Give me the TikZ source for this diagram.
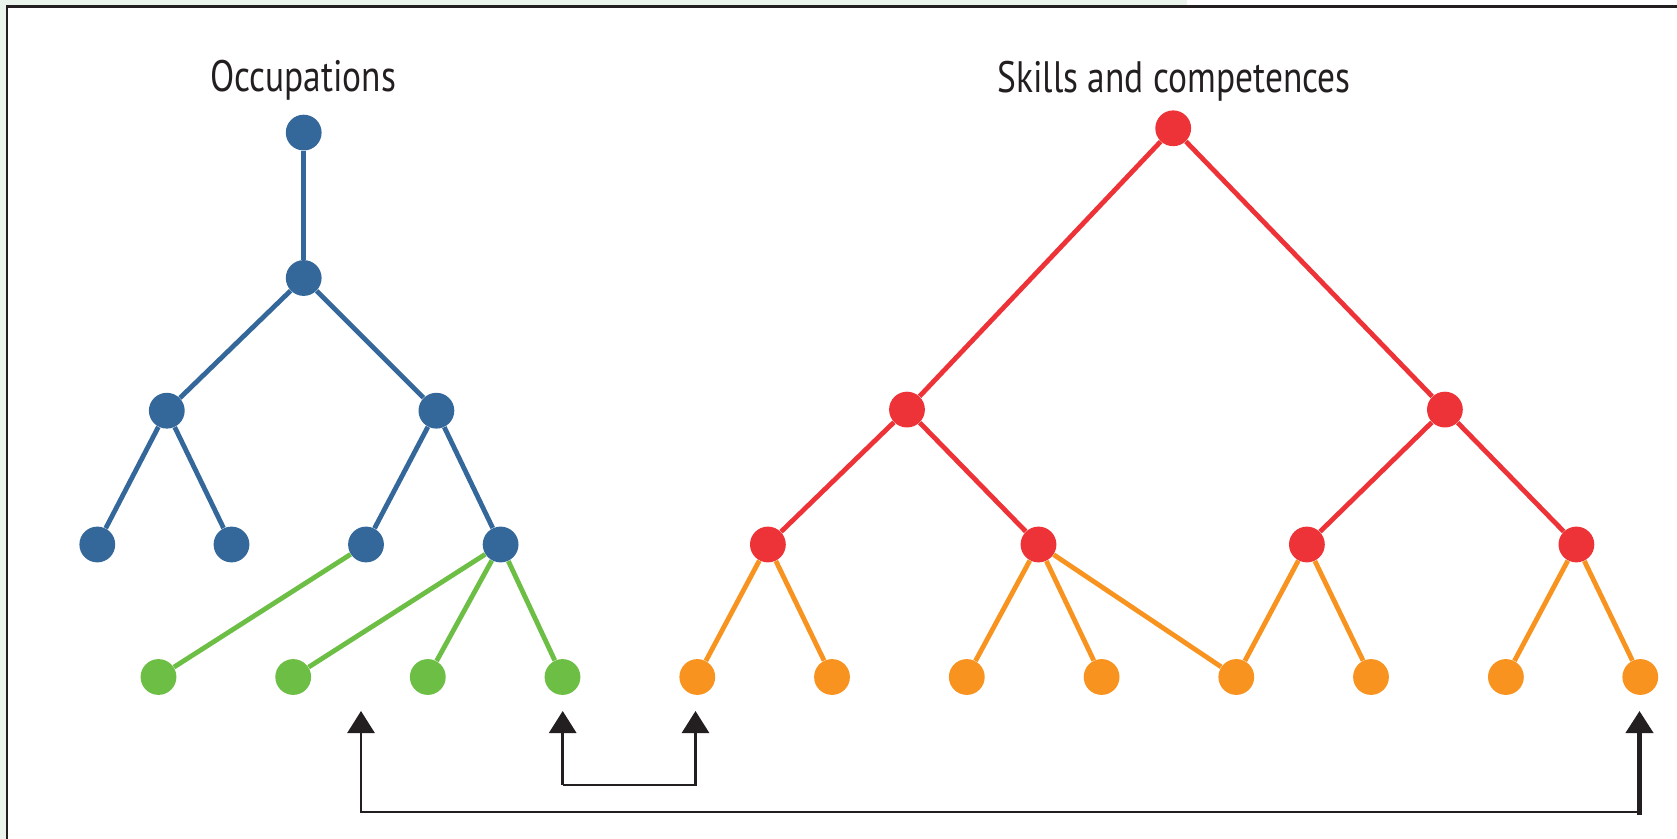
\documentclass[tikz,border=0pt]{standalone}
\usepackage{fontspec}
\setmainfont{PT Sans}[FakeStretch=0.805]
\usetikzlibrary{arrows.meta}
\definecolor{bgg}{HTML}{EAF4EC}
\definecolor{frame}{HTML}{231F20}
\definecolor{occ}{HTML}{34679A}
\definecolor{grn}{HTML}{6DBE45}
\definecolor{skl}{HTML}{EE3338}
\definecolor{org}{HTML}{F7931E}
\tikzset{
  dot/.style={circle,inner sep=0pt,minimum size=17.9pt,fill=#1},
  lnk/.style={draw=#1,line width=2.4pt},
  ttl/.style={anchor=base,font=\fontsize{22}{26}\selectfont,text=frame},
  arr/.style={draw=frame,line width=1.4pt,-{Triangle[width=13.5pt,length=11pt]}},
}
\begin{document}
\begin{tikzpicture}[x=0.5pt,y=-0.5pt]
\useasboundingbox (0,0) rectangle (1677,839);
\fill[white] (0,0) rectangle (1677,839);
\fill[bgg] (0,0) rectangle (1187,5.5);
\fill[bgg] (0,0) rectangle (6,839);
\draw[frame,line width=1.1pt] (7,839) -- (7,6.5) -- (1677,6.5);
% titles
\node[ttl] (t1) at (303,92) {Occupations};
\node[ttl] (t2) at (1174,93) {Skills and competences};
% occupations tree
\node[dot=occ] (o1) at (303.7,132.6) {};
\node[dot=occ] (o2) at (303.7,278) {};
\node[dot=occ] (o3) at (166.8,410.7) {};
\node[dot=occ] (o4) at (436.4,410.7) {};
\node[dot=occ] (o5) at (97.3,544.5) {};
\node[dot=occ] (o6) at (231.5,544.5) {};
\node[dot=occ] (o7) at (366,544.5) {};
\node[dot=occ] (o8) at (500.6,544.5) {};
\node[dot=grn] (g1) at (158.5,677) {};
\node[dot=grn] (g2) at (293.2,677) {};
\node[dot=grn] (g3) at (427.8,677) {};
\node[dot=grn] (g4) at (562.5,677) {};
% skills tree
\node[dot=skl] (s1) at (1173.2,128.3) {};
\node[dot=skl] (s2) at (907,409.6) {};
\node[dot=skl] (s3) at (1444.9,409.6) {};
\node[dot=skl] (s4) at (767.9,544.5) {};
\node[dot=skl] (s5) at (1038.5,544.5) {};
\node[dot=skl] (s6) at (1306.9,544.5) {};
\node[dot=skl] (s7) at (1576.4,544.5) {};
\node[dot=org] (r1) at (697.3,677) {};
\node[dot=org] (r2) at (832,677) {};
\node[dot=org] (r3) at (966.8,677) {};
\node[dot=org] (r4) at (1101.6,677) {};
\node[dot=org] (r5) at (1236.3,677) {};
\node[dot=org] (r6) at (1371,677) {};
\node[dot=org] (r7) at (1505.9,677) {};
\node[dot=org] (r8) at (1640.3,677) {};
% occupation links
\draw[lnk=occ] (o1) -- (o2);
\draw[lnk=occ] (o2) -- (o3);
\draw[lnk=occ] (o2) -- (o4);
\draw[lnk=occ] (o3) -- (o5);
\draw[lnk=occ] (o3) -- (o6);
\draw[lnk=occ] (o4) -- (o7);
\draw[lnk=occ] (o4) -- (o8);
\draw[lnk=grn] (o7) -- (g1);
\draw[lnk=grn] (o8) -- (g2);
\draw[lnk=grn] (o8) -- (g3);
\draw[lnk=grn] (o8) -- (g4);
% skill links
\draw[lnk=skl] (s1) -- (s2);
\draw[lnk=skl] (s1) -- (s3);
\draw[lnk=skl] (s2) -- (s4);
\draw[lnk=skl] (s2) -- (s5);
\draw[lnk=skl] (s3) -- (s6);
\draw[lnk=skl] (s3) -- (s7);
\draw[lnk=org] (s4) -- (r1);
\draw[lnk=org] (s4) -- (r2);
\draw[lnk=org] (s5) -- (r3);
\draw[lnk=org] (s5) -- (r4);
\draw[lnk=org] (s5) -- (r5);
\draw[lnk=org] (s6) -- (r5);
\draw[lnk=org] (s6) -- (r6);
\draw[lnk=org] (s7) -- (r7);
\draw[lnk=org] (s7) -- (r8);
% arrows
\coordinate (a1) at (361,711);
\coordinate (a2) at (1639.5,711);
\coordinate (b1) at (562.7,711);
\coordinate (b2) at (695.5,711);
\draw[arr] (1639.5,812) -- (361,812) -- (a1);
\draw[arr,line width=2.1pt] (1639.5,815) -- (a2);
\draw[arr] (b1 |- 0,785) -- (b1);
\draw[arr] (b1 |- 0,785) -- (b2 |- 0,785) -- (b2);
\end{tikzpicture}
\end{document}
